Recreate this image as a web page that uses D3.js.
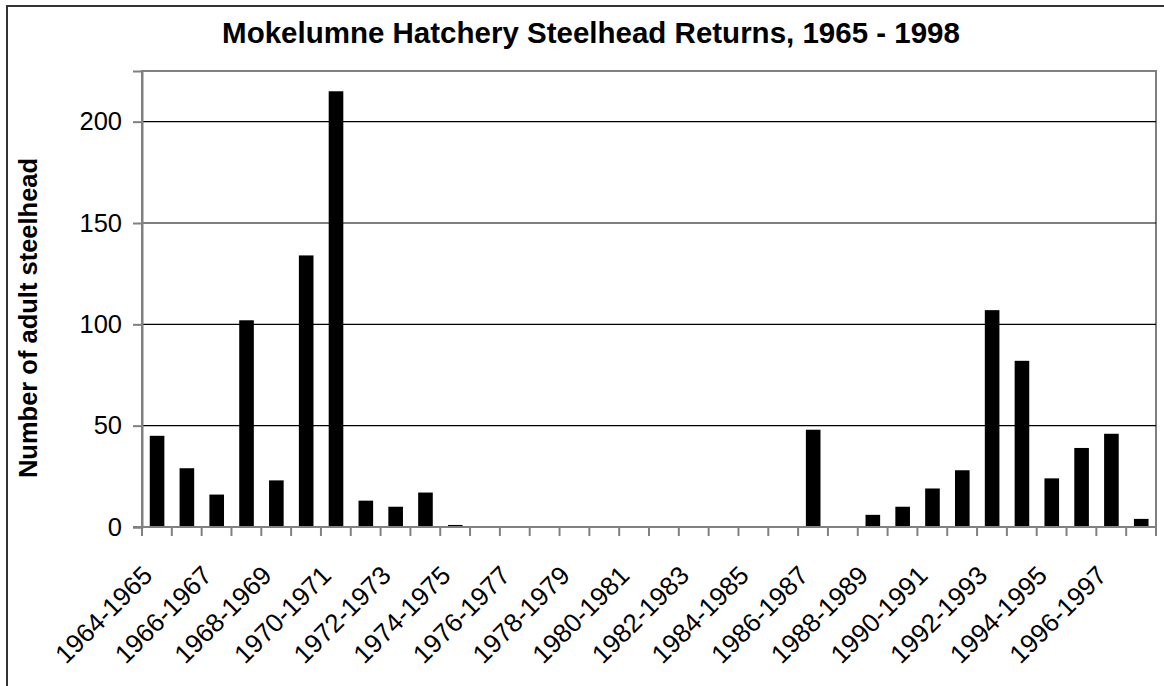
<!DOCTYPE html>
<html>
<head>
<meta charset="utf-8">
<script src="https://cdn.jsdelivr.net/npm/d3@7"></script>
<style>
  html, body { margin: 0; padding: 0; background: #fff; }
  svg { display: block; }
  text { font-family: "Liberation Sans", Arial, sans-serif; fill: #000; }
</style>
</head>
<body>
<svg id="chart" width="1164" height="686"></svg>
<script>
const title = "Mokelumne Hatchery Steelhead Returns, 1965 - 1998";
const yAxisTitle = "Number of adult steelhead";
const seasons = [
  "1964-1965","1965-1966","1966-1967","1967-1968","1968-1969","1969-1970",
  "1970-1971","1971-1972","1972-1973","1973-1974","1974-1975","1975-1976",
  "1976-1977","1977-1978","1978-1979","1979-1980","1980-1981","1981-1982",
  "1982-1983","1983-1984","1984-1985","1985-1986","1986-1987","1987-1988",
  "1988-1989","1989-1990","1990-1991","1991-1992","1992-1993","1993-1994",
  "1994-1995","1995-1996","1996-1997","1997-1998"
];
const returns = [
  45, 29, 16, 102, 23, 134,
  215, 13, 10, 17, 1, 0,
  0, 0, 0, 0, 0, 0,
  0, 0, 0, 0, 48, 0,
  6, 10, 19, 28, 107, 82,
  24, 39, 46, 4
];
const yTicks = [0, 50, 100, 150, 200];
const yMax = 225;

const svg = d3.select("#chart");
const L = 142, R = 1156, T = 71, B = 527;

// outer chart frame
svg.append("rect").attr("x", 7).attr("y", 6).attr("width", 1180).attr("height", 700)
  .attr("fill", "#fff").attr("stroke", "#333").attr("stroke-width", 2);

const x = d3.scaleBand().domain(seasons).range([L, R]).padding(0);
const y = d3.scaleLinear().domain([0, yMax]).range([B, T]);

// plot area border
svg.append("rect").attr("x", L).attr("y", T).attr("width", R - L).attr("height", B - T)
  .attr("fill", "#fff").attr("stroke", "#808080").attr("stroke-width", 2);

// gridlines
svg.append("g").selectAll("line").data(yTicks.filter(d => d > 0)).join("line")
  .attr("x1", L).attr("x2", R).attr("y1", d => y(d)).attr("y2", d => y(d))
  .attr("stroke", "#000").attr("stroke-width", 1.2);

// bars
const bw = x.bandwidth();
svg.append("g").selectAll("rect").data(seasons.map((s, i) => ({s, v: returns[i]}))).join("rect")
  .attr("x", d => x(d.s) + bw * 0.26)
  .attr("width", bw * 0.49)
  .attr("y", d => y(d.v))
  .attr("height", d => y(0) - y(d.v))
  .attr("fill", "#000");

// y axis
const yAxis = svg.append("g").attr("transform", `translate(${L},0)`)
  .call(d3.axisLeft(y).tickValues(yTicks).tickSize(9).tickPadding(11));
yAxis.select(".domain").attr("stroke", "#808080").attr("stroke-width", 2);
yAxis.selectAll(".tick line").attr("stroke", "#808080").attr("stroke-width", 2);
yAxis.selectAll(".tick text").attr("font-size", "25.5px")
  .attr("font-family", "'Liberation Sans', Arial, sans-serif").attr("fill", "#000");

// x axis line and ticks at category boundaries
svg.append("line").attr("x1", L - 9).attr("x2", R).attr("y1", B).attr("y2", B)
  .attr("stroke", "#808080").attr("stroke-width", 2);
const bounds = seasons.map(s => x(s)).concat([x(seasons[seasons.length - 1]) + bw]);
svg.append("g").selectAll("line").data(bounds).join("line")
  .attr("x1", d => d).attr("x2", d => d).attr("y1", B).attr("y2", B + 9)
  .attr("stroke", "#808080").attr("stroke-width", 2);

// x labels (every other)
svg.append("g").selectAll("text").data(seasons.filter((s, i) => i % 2 === 0)).join("text")
  .attr("transform", d => `translate(${x(d) + bw / 2 - 3},577) rotate(-45)`)
  .attr("text-anchor", "end")
  .attr("font-size", "26px")
  .text(d => d);

// title
svg.append("text").attr("x", 591).attr("y", 43).attr("text-anchor", "middle")
  .attr("font-size", "29.5px").attr("font-weight", "bold").text(title);

// y axis title
svg.append("text").attr("transform", "translate(37,318) rotate(-90)")
  .attr("text-anchor", "middle").attr("font-size", "25.5px").attr("font-weight", "bold")
  .text(yAxisTitle);
</script>
</body>
</html>
